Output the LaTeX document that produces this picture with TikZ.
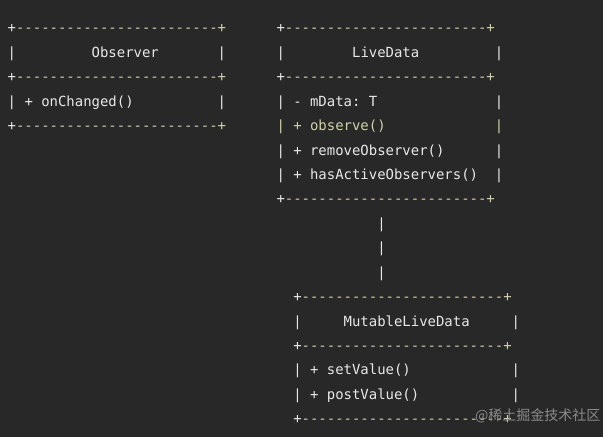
\documentclass[tikz,border=0pt]{standalone}
\usepackage{fontspec}
\setmonofont{DejaVu Sans Mono}
\newfontfamily\cjkfont{Noto Sans CJK SC}
\definecolor{bg}{HTML}{282828}
\definecolor{fg}{HTML}{E8E8E8}
\definecolor{beige}{HTML}{D2D2A8}
\definecolor{wm}{HTML}{8A8A8A}
\tikzset{asc/.style={inner sep=0pt, anchor=base west, font=\ttfamily\fontsize{13.95}{16}\selectfont, text=fg}}
\newcommand\asc[5]{\node[asc,text=#4] (#1) at ({7.5+8.4*(#2)},{32.8+24.44*(#3)}) {#5};}
\newcommand\bord[3]{\asc{#1p}{#2}{#3}{fg}{+}\asc{#1d}{#2+1}{#3}{beige}{------------------------+}}
\begin{document}
\begin{tikzpicture}[x=1pt,y=-1pt]
\fill[bg] (0,0) rectangle (603,437);
\useasboundingbox (0,0) rectangle (603,437);
% Observer box
\bord{obA}{0}{0}
\asc{obLa}{0}{1}{fg}{|}
\asc{obName}{10}{1}{fg}{Observer}
\asc{obRa}{25}{1}{fg}{|}
\bord{obB}{0}{2}
\asc{obLb}{0}{3}{fg}{|}
\asc{obM}{2}{3}{fg}{+ onChanged()}
\asc{obRb}{25}{3}{fg}{|}
\bord{obC}{0}{4}
% LiveData box
\bord{ldA}{32}{0}
\asc{ldLa}{32}{1}{fg}{|}
\asc{ldName}{41}{1}{fg}{LiveData}
\asc{ldRa}{58}{1}{fg}{|}
\bord{ldB}{32}{2}
\asc{ldLb}{32}{3}{fg}{|}
\asc{ldMa}{34}{3}{fg}{- mData: T}
\asc{ldRb}{58}{3}{fg}{|}
\asc{ldLc}{32}{4}{beige}{|}
\asc{ldMb}{34}{4}{beige}{+ observe()}
\asc{ldRc}{58}{4}{beige}{|}
\asc{ldLd}{32}{5}{fg}{|}
\asc{ldMc}{34}{5}{fg}{+ removeObserver()}
\asc{ldRd}{58}{5}{fg}{|}
\asc{ldLe}{32}{6}{fg}{|}
\asc{ldMd}{34}{6}{fg}{+ hasActiveObservers()}
\asc{ldRe}{58}{6}{fg}{|}
\bord{ldC}{32}{7}
% connector
\asc{cnA}{44}{8}{fg}{|}
\asc{cnB}{44}{9}{fg}{|}
\asc{cnC}{44}{10}{fg}{|}
% MutableLiveData box
\bord{mlA}{34}{11}
\asc{mlLa}{34}{12}{fg}{|}
\asc{mlName}{40}{12}{fg}{MutableLiveData}
\asc{mlRa}{60}{12}{fg}{|}
\bord{mlB}{34}{13}
\asc{mlLb}{34}{14}{fg}{|}
\asc{mlMa}{36}{14}{fg}{+ setValue()}
\asc{mlRb}{60}{14}{fg}{|}
\asc{mlLc}{34}{15}{fg}{|}
\asc{mlMb}{36}{15}{fg}{+ postValue()}
\asc{mlRc}{60}{15}{fg}{|}
\bord{mlC}{34}{16}
% watermark
\node[anchor=west, inner sep=0pt, text=wm, font=\cjkfont\fontsize{14}{16}\selectfont] (wmark) at (475,415.7) {@稀土掘金技术社区};
\end{tikzpicture}
\end{document}
